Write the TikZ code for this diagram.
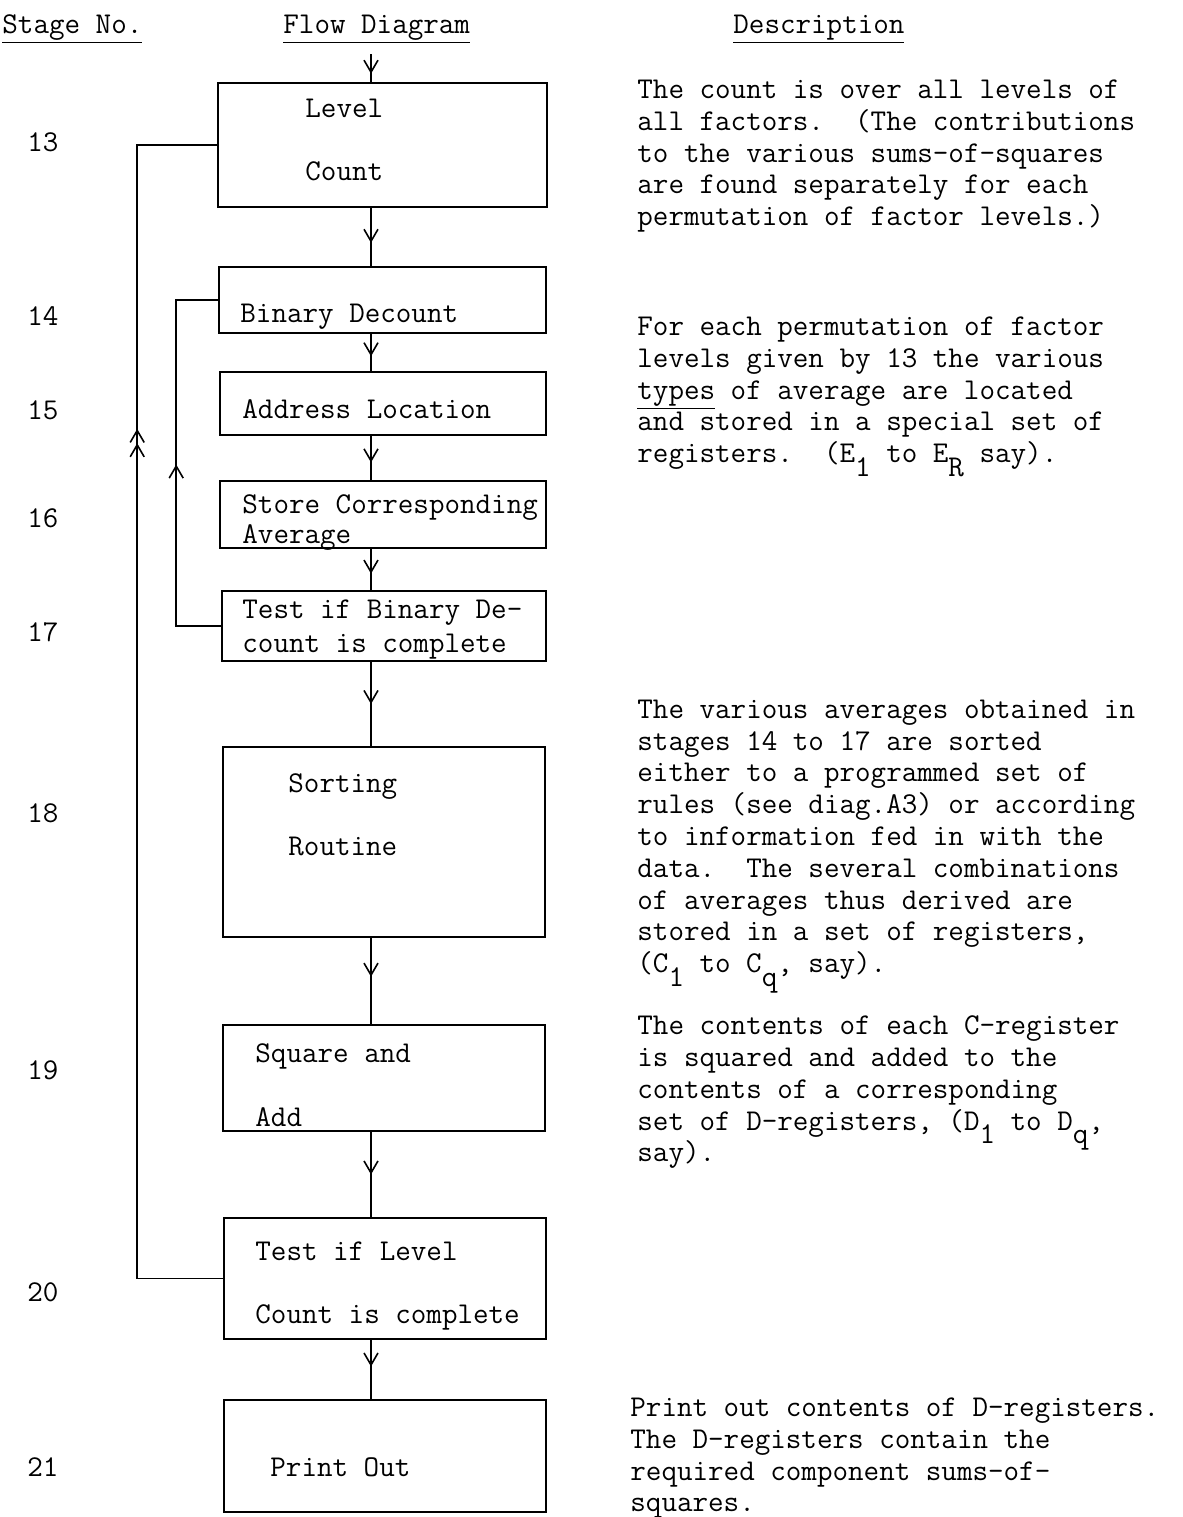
\documentclass[tikz,border=0pt]{standalone}
\usepackage{fontspec}
\usetikzlibrary{arrows.meta,decorations.markings}

% lowered typewriter subscript
\newcommand{\lowch}[1]{\smash{\raisebox{-0.45em}{#1}}}

\tikzset{
  box/.style={draw, rectangle, line width=0.8pt, inner sep=0pt},
  txt/.style={anchor=base west, inner sep=0pt},
  desc/.style={anchor=north west, align=left, inner sep=0pt},
  flow/.style={line width=0.8pt, postaction={decorate},
    decoration={markings, mark=at position #1 with {\arrow{Straight Barb[length=6pt,width=7pt]}}}},
  flow/.default=0.6,
  flowtwo/.style={line width=0.8pt, postaction={decorate},
    decoration={markings, mark=at position #1 with {\arrow{Straight Barb[length=6pt,width=7pt] Straight Barb[length=6pt,width=7pt]}}}}
}

\begin{document}
\begin{tikzpicture}[x=0.5pt,y=-0.5pt,font=\fontsize{15.1pt}{15.9pt}\selectfont\ttfamily]
\useasboundingbox (0,0) rectangle (1183,1517);

% headings
\node[txt] (hstage) at (2,33) {\underline{Stage No.}};
\node[txt] (hflow) at (283,33) {\underline{Flow Diagram}};
\node[txt] (hdesc) at (733,33) {\underline{Description}};

% stage numbers
\foreach \n/\y in {13/151,14/325,15/419,16/527,17/641,18/822,19/1079,20/1301,21/1476}
  \node[txt] (s\n) at (27,\y) {\n};

% boxes
\node[box, minimum width=164.5pt, minimum height=62pt] (b13) at (382.5,145) {};
\node[box, minimum width=163.5pt, minimum height=33pt] (b14) at (382.5,300) {};
\node[box, minimum width=163pt, minimum height=31.5pt] (b15) at (383,403.5) {};
\node[box, minimum width=163pt, minimum height=33.5pt] (b16) at (383,514.5) {};
\node[box, minimum width=162pt, minimum height=35pt] (b17) at (384,626) {};
\node[box, minimum width=161pt, minimum height=95pt] (b18) at (384,842) {};
\node[box, minimum width=161pt, minimum height=53pt] (b19) at (384,1078) {};
\node[box, minimum width=161pt, minimum height=60.5pt] (b20) at (385,1278.5) {};
\node[box, minimum width=161pt, minimum height=56pt] (b21) at (385,1456) {};

% box texts
\node[txt] (t13a) at (305,117) {Level};
\node[txt] (t13b) at (305,180) {Count};
\node[txt] (t14) at (240,322) {Binary Decount};
\node[txt] (t15) at (242,418) {Address Location};
\node[txt] (t16a) at (242,513) {Store Corresponding};
\node[txt] (t16b) at (242,543) {Average};
\node[txt] (t17a) at (242,618) {Test if Binary De-};
\node[txt] (t17b) at (242,652) {count is complete};
\node[txt] (t18a) at (288,792) {Sorting};
\node[txt] (t18b) at (288,855) {Routine};
\node[txt] (t19a) at (255,1062) {Square and};
\node[txt] (t19b) at (255,1126) {Add};
\node[txt] (t20a) at (255,1260) {Test if Level};
\node[txt] (t20b) at (255,1323) {Count is complete};
\node[txt] (t21) at (270,1476) {Print Out};

% main line
\coordinate (spine) at (371,0);
\coordinate (start) at (371,54);
\draw[flow=0.7] (start) -- (b13.north -| spine);
\draw[flow] (b13.south -| spine) -- (b14.north -| spine);
\draw[flow] (b14.south -| spine) -- (b15.north -| spine);
\draw[flow] (b15.south -| spine) -- (b16.north -| spine);
\draw[flow] (b16.south -| spine) -- (b17.north -| spine);
\draw[flow=0.5] (b17.south -| spine) -- (b18.north -| spine);
\draw[flow=0.45] (b18.south -| spine) -- (b19.north -| spine);
\draw[flow=0.5] (b19.south -| spine) -- (b20.north -| spine);
\draw[flow=0.45] (b20.south -| spine) -- (b21.north -| spine);

% loops back
\draw[flow=0.5] (b17.west) -- ++(-45,0) |- (b14.west);
\draw[flowtwo=0.72] (b20.west) -- ++(-86,0) |- (b13.west);

% descriptions
\node[desc] (d13) at (637,79.5) {The count is over all levels of\\
all factors.\ \ (The contributions\\
to the various sums-of-squares\\
are found separately for each\\
permutation of factor levels.)};

\node[desc] (d14) at (637,316.5) {For each permutation of factor\\
levels given by 13 the various\\
\underline{types} of average are located\\
and stored in a special set of\\
registers.\ \ (E\lowch{1} to E\lowch{R} say).};

\node[desc] (d18) at (637,699.5) {The various averages obtained in\\
stages 14 to 17 are sorted\\
either to a programmed set of\\
rules (see diag.A3) or according\\
to information fed in with the\\
data.\ \ The several combinations\\
of averages thus derived are\\
stored in a set of registers,\\
(C\lowch{1} to C\lowch{q}, say).};

\node[desc] (d19) at (637,1015.5) {The contents of each C-register\\
is squared and added to the\\
contents of a corresponding\\
set of D-registers, (D\lowch{1} to D\lowch{q},\\
say).};

\node[desc] (d21) at (630,1397.5) {Print out contents of D-registers.\\
The D-registers contain the\\
required component sums-of-\\
squares.};

\end{tikzpicture}
\end{document}
